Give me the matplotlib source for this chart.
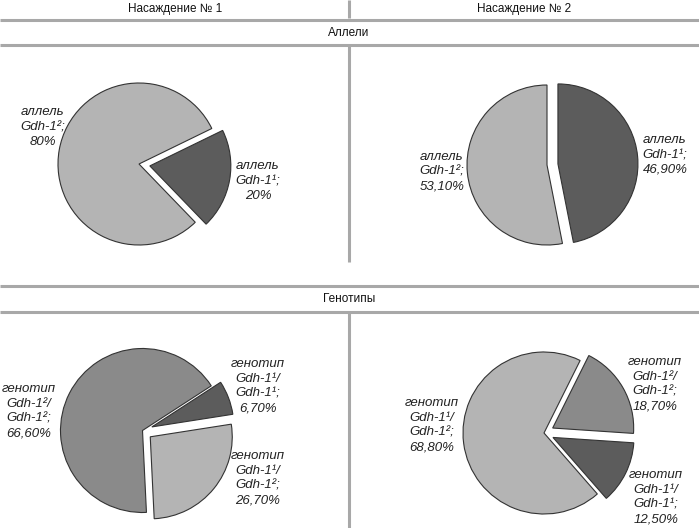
import matplotlib
matplotlib.use('Agg')
import matplotlib.pyplot as plt

plt.rcParams['font.family'] = ['Liberation Sans', 'DejaVu Sans']

W, H = 699, 528

# data
stands = ['Насаждение № 1', 'Насаждение № 2']
rows = ['Аллели', 'Генотипы']

allele1_vals = [20, 80]
allele1_labels = ['аллель\nGdh-1¹;\n20%', 'аллель\nGdh-1²;\n80%']
allele2_vals = [46.9, 53.1]
allele2_labels = ['аллель\nGdh-1¹;\n46,90%', 'аллель\nGdh-1²;\n53,10%']

geno1_vals = [6.7, 26.7, 66.6]
geno1_labels = ['генотип\nGdh-1¹/\nGdh-1¹;\n6,70%',
                'генотип\nGdh-1¹/\nGdh-1²;\n26,70%',
                'генотип\nGdh-1²/\nGdh-1²;\n66,60%']
geno2_vals = [18.7, 12.5, 68.8]
geno2_labels = ['генотип\nGdh-1²/\nGdh-1²;\n18,70%',
                'генотип\nGdh-1¹/\nGdh-1¹;\n12,50%',
                'генотип\nGdh-1¹/\nGdh-1²;\n68,80%']

light = '#b4b4b4'
medium = '#8a8a8a'
dark = '#5c5c5c'
gridc = '#a8a8a8'

fig = plt.figure(figsize=(W / 100, H / 100), dpi=100)
ax = fig.add_axes([0, 0, 1, 1])


def Y(y):
    # image row -> data y
    return H - y


# table lines
for yy in [19.5, 45, 286, 311.5]:
    ax.plot([0, W], [Y(yy), Y(yy)], color=gridc, lw=2.2, solid_capstyle='butt')
for y0, y1 in [(0, 18), (46, 262), (313, H)]:
    ax.plot([349, 349], [Y(y0), Y(y1)], color=gridc, lw=2.2, solid_capstyle='butt')

hdr = dict(ha='center', va='center', fontsize=8.5, color='#111111')
ax.text(175, Y(9), stands[0], **hdr)
ax.text(524, Y(9), stands[1], **hdr)
ax.text(349, Y(33), rows[0], **hdr)
ax.text(349, Y(299), rows[1], **hdr)

wp = dict(edgecolor='#333333', linewidth=0.8)

# pies: (values, colors, explode, start, center, radius, label positions)
pies = [
    (allele1_vals, [dark, light], [11, 0], 26, (139, 164), 81,
     allele1_labels, [(258, 181), (43, 127)]),
    (allele2_vals, [dark, light], [11, 0], 90, (547, 165), 80,
     allele2_labels, [(665, 155), (442, 172)]),
    (geno1_vals, [dark, light, medium], [10, 10, 0], 33, (142.5, 430.5), 82,
     geno1_labels, [(258, 386), (258, 478), (29, 411)]),
    (geno2_vals, [medium, dark, light], [10, 10, 0], 63.5, (544, 433), 81,
     geno2_labels, [(655, 384), (656, 497), (432, 425)]),
]

for vals, cols, expl, start, c, r, labs, pos in pies:
    ax.pie(vals, colors=cols, explode=expl, startangle=start, counterclock=False,
           center=(c[0], Y(c[1])), radius=r, wedgeprops=wp, frame=True)
    for lab, (lx, ly) in zip(labs, pos):
        ax.text(lx, Y(ly), lab, ha='center', va='center', fontsize=9.5,
                style='italic', color='#222222', linespacing=1.32)

ax.set_xlim(0, W)
ax.set_ylim(0, H)
ax.set_aspect('auto')
ax.axis('off')

fig.savefig('out.png', dpi=100)
